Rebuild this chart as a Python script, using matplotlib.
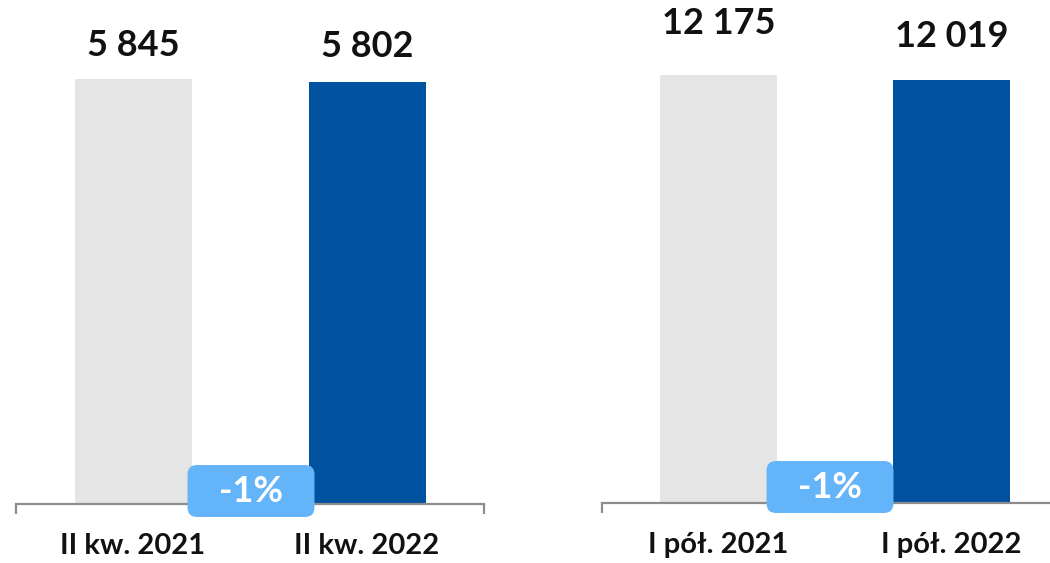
import matplotlib
matplotlib.use("Agg")
import matplotlib.pyplot as plt
from matplotlib.patches import FancyBboxPatch

plt.rcParams['font.family'] = ['Lato', 'DejaVu Sans']

# ---- data ----
left_categories = ["II kw. 2021", "II kw. 2022"]
left_values = [5845, 5802]
left_labels = ["5 845", "5 802"]
left_change = "-1%"

right_categories = ["I pół. 2021", "I pół. 2022"]
right_values = [12175, 12019]
right_labels = ["12 175", "12 019"]
right_change = "-1%"

# ---- style ----
bar_colors = ["#E5E5E5", "#0052A0"]
badge_color = "#64B4FA"
axis_color = "#8C8C8C"
W, H, DPI = 1050, 563, 100

fig = plt.figure(figsize=(W / DPI, H / DPI), dpi=DPI)


def panel(rect_px, cats, vals, labels, change, ymax, label_offsets_px, badge_center_px):
    x0, y_axis, w_px = rect_px
    ax = fig.add_axes([x0 / W, (H - y_axis) / H, w_px / W, y_axis / H])
    ax.bar(range(len(vals)), vals, width=0.5, color=bar_colors, zorder=2)
    ax.set_xlim(-0.5, 1.5)
    ax.set_ylim(0, ymax)
    for s in ["top", "right", "left"]:
        ax.spines[s].set_visible(False)
    ax.spines["bottom"].set_color(axis_color)
    ax.spines["bottom"].set_linewidth(1.6)
    ax.set_yticks([])
    ax.set_xticks([0, 1])
    ax.set_xticklabels(cats, fontsize=21, fontweight="bold", color="#111111")
    ax.tick_params(axis="x", length=0, pad=21)
    ax.set_xticks([-0.5, 0.5, 1.5], minor=True)
    ax.tick_params(axis="x", which="minor", length=7.5, width=1.6, color=axis_color)
    for i, (v, lab) in enumerate(zip(vals, labels)):
        ax.annotate(lab, xy=(i, v), xytext=(0, label_offsets_px[i] * 0.72),
                    textcoords="offset points", ha="center", va="center",
                    fontsize=26, fontweight="bold", color="#111111")
    # badge in pixel coordinates
    bx, by = badge_center_px
    bw, bh = 127, 52
    badge = FancyBboxPatch(((bx - bw / 2 + 8) / W, (H - by - bh / 2 + 8) / H),
                           (bw - 16) / W, (bh - 16) / H,
                           boxstyle="round,pad=0.0076,rounding_size=0.009",
                           transform=fig.transFigure, facecolor=badge_color,
                           edgecolor="none", zorder=5, clip_on=False,
                           mutation_aspect=W / H)
    fig.add_artist(badge)
    fig.text(bx / W, (H - by) / H, change, ha="center", va="center",
             fontsize=26, fontweight="bold", color="white", zorder=6)
    return ax


panel((16, 504, 468), left_categories, left_values, left_labels, left_change,
      504 / 425 * 5845, [34, 36], (251, 491))
panel((602, 503, 466), right_categories, right_values, right_labels, right_change,
      503 / 428 * 12175, [51, 44], (830, 487))

fig.savefig("out.png", dpi=DPI)
